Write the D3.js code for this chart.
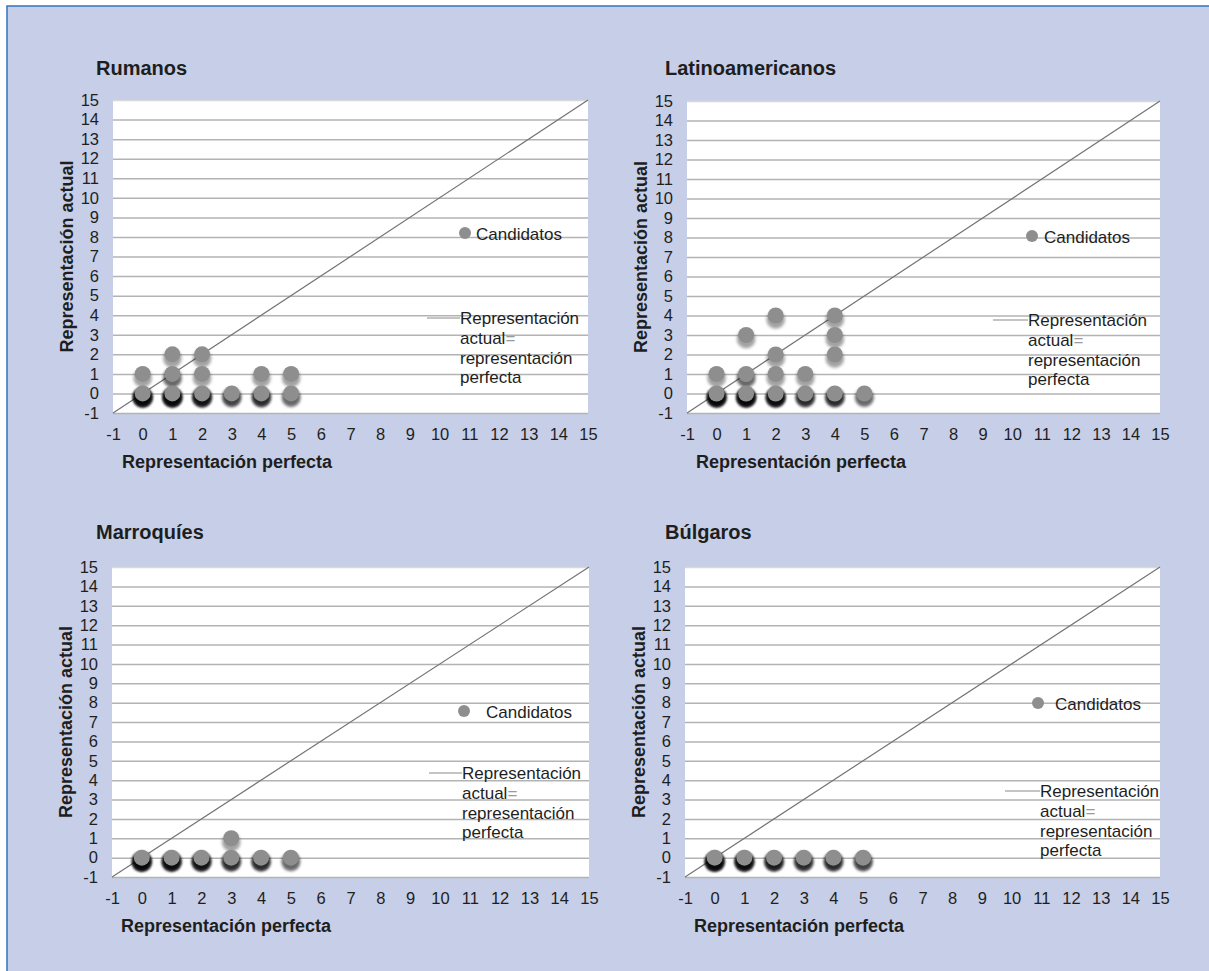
<!DOCTYPE html>
<html>
<head>
<meta charset="utf-8">
<script src="https://cdn.jsdelivr.net/npm/d3@7/dist/d3.min.js"></script>
<style>
  body { margin: 0; background: #ffffff; }
  svg { display: block; font-family: "Liberation Sans", Arial, sans-serif; }
</style>
</head>
<body>
<svg id="chart" width="1209" height="971"></svg>
<script>
// ---------- DATA ----------
const chartTitles = ["Rumanos", "Latinoamericanos", "Marroquíes", "Búlgaros"];
const tickValues = [-1, 0, 1, 2, 3, 4, 5, 6, 7, 8, 9, 10, 11, 12, 13, 14, 15];
const xAxisTitle = "Representación perfecta";
const yAxisTitle = "Representación actual";
const legendDotLabel = "Candidatos";
const legendLineLabel = ["Representación", "actual", "representación", "perfecta"];

// points: x (perfect representation), y (actual representation), n (number of overlapping candidates)
const rumanosX = [0, 1, 2, 3, 4, 5, 0, 1, 2, 4, 5, 1, 2];
const rumanosY = [0, 0, 0, 0, 0, 0, 1, 1, 1, 1, 1, 2, 2];
const rumanosN = [8, 8, 6, 3, 4, 2, 1, 2, 1, 1, 1, 1, 1];

const latinoX = [0, 1, 2, 3, 4, 5, 0, 1, 2, 3, 2, 4, 1, 4, 2, 4];
const latinoY = [0, 0, 0, 0, 0, 0, 1, 1, 1, 1, 2, 2, 3, 3, 4, 4];
const latinoN = [8, 8, 7, 4, 4, 2, 1, 2, 1, 1, 1, 1, 1, 1, 1, 1];

const marroquiesX = [0, 1, 2, 3, 4, 5, 3];
const marroquiesY = [0, 0, 0, 0, 0, 0, 1];
const marroquiesN = [8, 7, 6, 4, 4, 2, 1];

const bulgarosX = [0, 1, 2, 3, 4, 5];
const bulgarosY = [0, 0, 0, 0, 0, 0];
const bulgarosN = [8, 7, 5, 4, 4, 3];

const seriesX = [rumanosX, latinoX, marroquiesX, bulgarosX];
const seriesY = [rumanosY, latinoY, marroquiesY, bulgarosY];
const seriesN = [rumanosN, latinoN, marroquiesN, bulgarosN];

// ---------- LAYOUT ----------
const layout = [
  { left: 113, right: 588, top: 100, bottom: 413, titleX: 96, titleY: 75,
    dot: [465, 233], dotText: 476, line: [427, 460, 318] },
  { left: 687, right: 1160, top: 101, bottom: 413, titleX: 665, titleY: 75,
    dot: [1032, 236], dotText: 1044, line: [993, 1028, 320] },
  { left: 112, right: 589, top: 567, bottom: 877, titleX: 96, titleY: 539,
    dot: [464, 711], dotText: 486, line: [429, 462, 773] },
  { left: 685, right: 1160, top: 567, bottom: 877, titleX: 665, titleY: 539,
    dot: [1038, 703], dotText: 1055, line: [1005, 1040, 791] }
];

const svg = d3.select("#chart");
const defs = svg.append("defs");
defs.append("filter").attr("id", "shadowBlur")
  .attr("x", "-100%").attr("y", "-100%").attr("width", "300%").attr("height", "300%")
  .append("feGaussianBlur").attr("stdDeviation", 1.6);

// background + border
svg.append("rect").attr("x", 7).attr("y", 6).attr("width", 1300).attr("height", 1100)
  .attr("fill", "#c6cfe7").attr("stroke", "#2f74c0").attr("stroke-width", 1.5);

const textColor = "#1e1e1e";
const dotColor = "#8e8e8e";
const fmt = d => String(d);

layout.forEach((L, i) => {
  const g = svg.append("g");
  const x = d3.scaleLinear().domain([-1, 15]).range([L.left, L.right]);
  const y = d3.scaleLinear().domain([-1, 15]).range([L.bottom, L.top]);

  // plot area
  g.append("rect").attr("x", L.left).attr("y", L.top)
    .attr("width", L.right - L.left).attr("height", L.bottom - L.top)
    .attr("fill", "#ffffff");

  // gridlines
  const grid = g.append("g").attr("transform", `translate(${L.left},0)`)
    .call(d3.axisLeft(y).tickValues(tickValues).tickSize(-(L.right - L.left)).tickFormat(""));
  grid.select(".domain").remove();
  grid.selectAll(".tick line")
    .attr("stroke", d => d === 15 ? "#d8d8d8" : "#b3b3b3")
    .attr("stroke-width", 1.5);

  // y tick labels
  const ya = g.append("g").attr("transform", `translate(${L.left - 14},0)`)
    .call(d3.axisLeft(y).tickValues(tickValues).tickSize(0).tickPadding(0).tickFormat(fmt));
  ya.select(".domain").remove();
  ya.selectAll("text").attr("font-size", 16.5).attr("fill", textColor)
    .attr("font-family", "'Liberation Sans', Arial, sans-serif");

  // x tick labels
  const xa = g.append("g").attr("transform", `translate(0,${L.bottom + 15})`)
    .call(d3.axisBottom(x).tickValues(tickValues).tickSize(0).tickPadding(0).tickFormat(fmt));
  xa.select(".domain").remove();
  xa.selectAll("text").attr("font-size", 16.5).attr("fill", textColor)
    .attr("font-family", "'Liberation Sans', Arial, sans-serif");

  // diagonal line y = x
  g.append("line")
    .attr("x1", x(-1)).attr("y1", y(-1)).attr("x2", x(15)).attr("y2", y(15))
    .attr("stroke", "#737373").attr("stroke-width", 1.2);

  // points
  const pts = seriesX[i].map((xv, k) => ({ x: xv, y: seriesY[i][k], n: seriesN[i][k] }));
  const shadows = [];
  pts.forEach(p => { for (let s = 0; s < p.n; s++) shadows.push(p); });
  g.append("g").selectAll("circle").data(shadows).join("circle")
    .attr("cx", d => x(d.x)).attr("cy", d => y(d.y) + 4)
    .attr("r", 9.3).attr("fill", "#000").attr("fill-opacity", 0.36)
    .attr("filter", "url(#shadowBlur)");
  g.append("g").selectAll("circle").data(pts).join("circle")
    .attr("cx", d => x(d.x)).attr("cy", d => y(d.y))
    .attr("r", 8).attr("fill", dotColor);

  // titles
  g.append("text").attr("x", L.titleX).attr("y", L.titleY)
    .attr("font-size", 20).attr("font-weight", "bold").attr("fill", textColor)
    .text(chartTitles[i]);
  g.append("text").attr("x", L.left + 9).attr("y", L.bottom + 55)
    .attr("font-size", 18).attr("font-weight", "bold").attr("fill", textColor)
    .text(xAxisTitle);
  g.append("text")
    .attr("transform", `translate(${L.left - 40},${(L.top + L.bottom) / 2}) rotate(-90)`)
    .attr("text-anchor", "middle")
    .attr("font-size", 18).attr("font-weight", "bold").attr("fill", textColor)
    .text(yAxisTitle);

  // legend
  g.append("circle").attr("cx", L.dot[0]).attr("cy", L.dot[1]).attr("r", 6).attr("fill", dotColor);
  g.append("text").attr("x", L.dotText).attr("y", L.dot[1] + 6.5)
    .attr("font-size", 17).attr("fill", textColor).text(legendDotLabel);
  g.append("line").attr("x1", L.line[0]).attr("x2", L.line[1])
    .attr("y1", L.line[2]).attr("y2", L.line[2])
    .attr("stroke", "#8a8a8a").attr("stroke-width", 1.2);
  const lt = g.append("text").attr("x", L.line[1]).attr("y", L.line[2] + 6)
    .attr("font-size", 17).attr("fill", textColor);
  legendLineLabel.forEach((s, k) => {
    const ts = lt.append("tspan").attr("x", L.line[1]).attr("dy", k === 0 ? 0 : 19.8).text(s);
    if (k === 1) ts.append("tspan").attr("fill", "#9a9a9a").text("=");
  });
});
</script>
</body>
</html>
